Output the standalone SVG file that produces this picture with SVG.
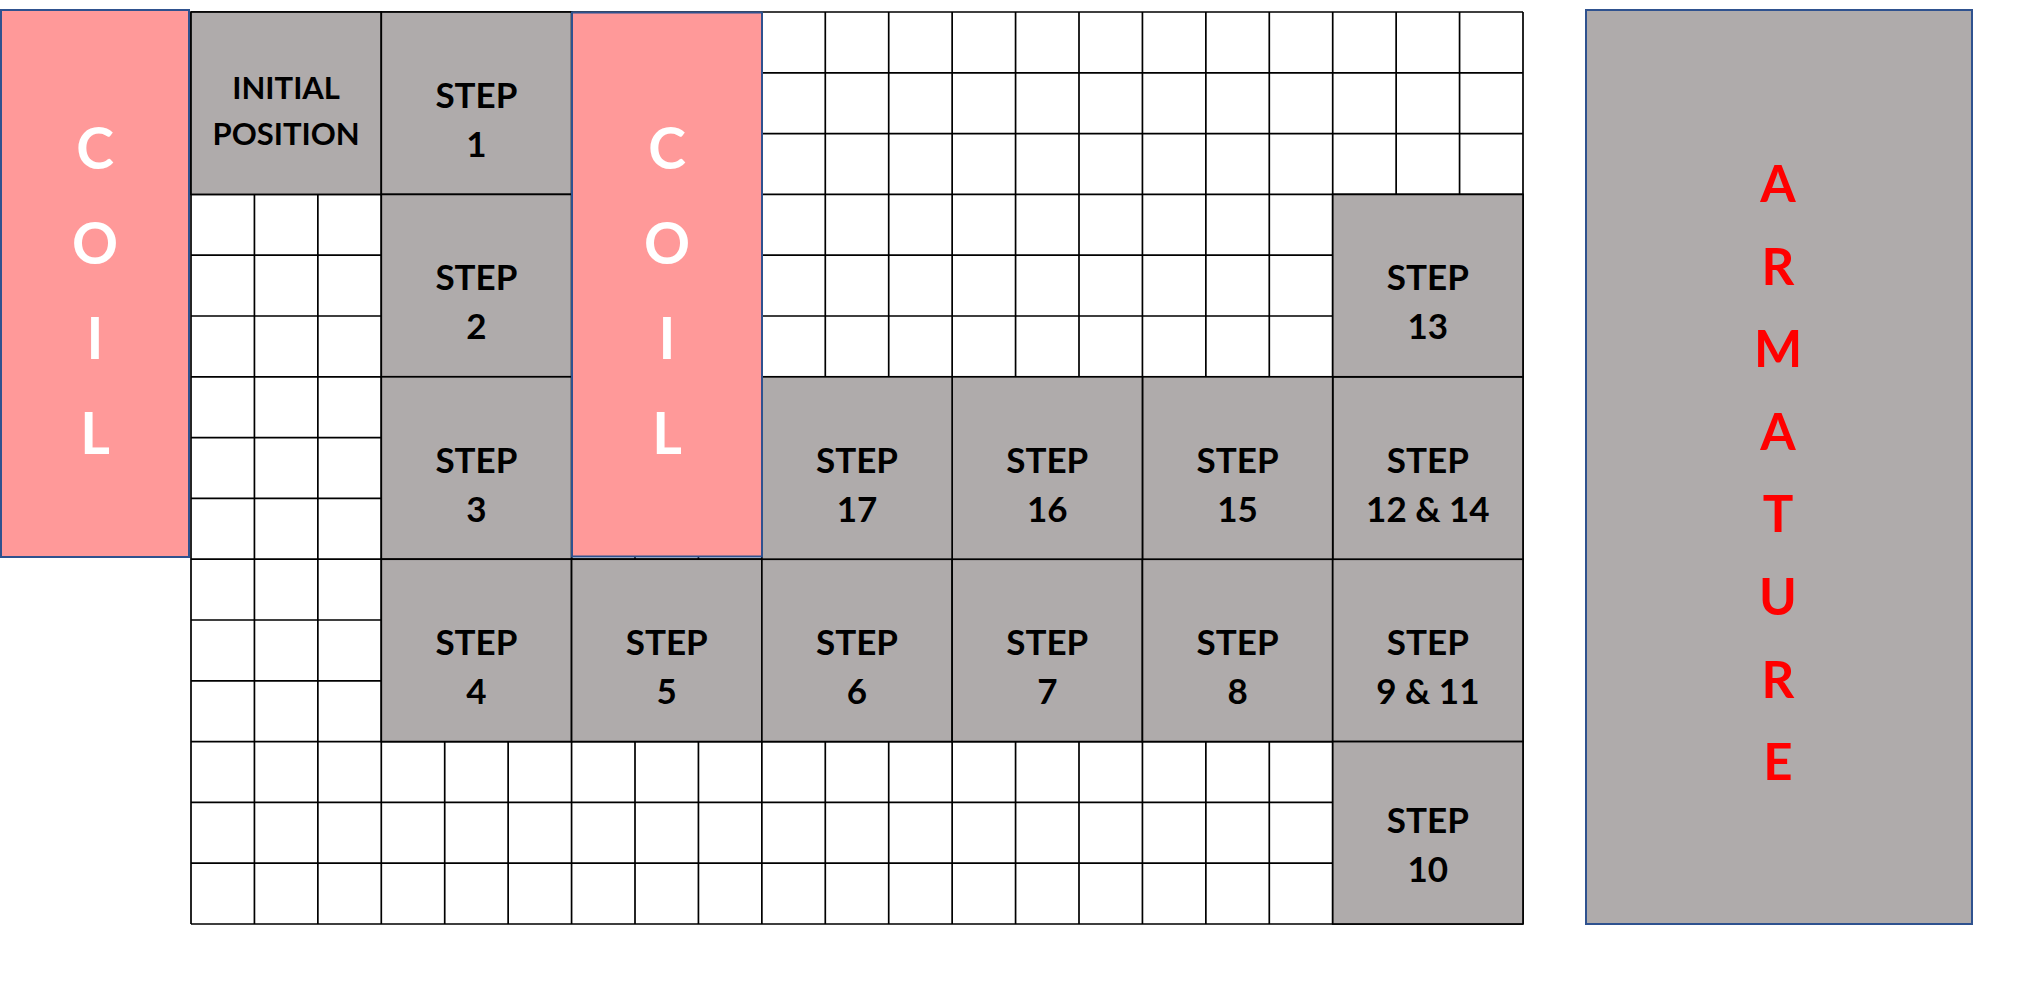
<svg xmlns="http://www.w3.org/2000/svg" width="2022" height="990" viewBox="0 0 2022 990">
<style>
.bg{fill:#ffffff}
.grid{fill:none;stroke:#000;stroke-width:1.7}
.cell{fill:#AFABAB;stroke:#000;stroke-width:1.7}
.coil{fill:#FF9999;stroke:#2F528F;stroke-width:2}
.arm{fill:#AFABAB;stroke:#2F528F;stroke-width:2}
.lbl{font-family:Lato,"Liberation Sans",sans-serif;font-weight:700;font-size:35px;fill:#000;text-anchor:middle}
.init{font-size:31px}
.cl{font-family:Lato,"Liberation Sans",sans-serif;font-weight:700;font-size:57px;fill:#fff;text-anchor:middle}
.al{font-family:Lato,"Liberation Sans",sans-serif;font-weight:700;font-size:51px;fill:#FF0000;text-anchor:middle}
</style>
<rect class="bg" x="0" y="0" width="2022" height="990"/>
<g id="grid">
<path class="grid" d="M191 12V924M254.43 12V924M317.86 12V924M381.29 12V924M444.71 12V924M508.14 12V924M571.57 12V924M635 12V924M698.43 12V924M761.86 12V924M825.29 12V924M888.71 12V924M952.14 12V924M1015.57 12V924M1079 12V924M1142.43 12V924M1205.86 12V924M1269.29 12V924M1332.71 12V924M1396.14 12V924M1459.57 12V924M1523 12V924M191 12H1523M191 72.8H1523M191 133.6H1523M191 194.4H1523M191 255.2H1523M191 316H1523M191 376.8H1523M191 437.6H1523M191 498.4H1523M191 559.2H1523M191 620H1523M191 680.8H1523M191 741.6H1523M191 802.4H1523M191 863.2H1523M191 924H1523"/>
</g>
<g id="initial-position"><rect class="cell" x="191" y="12" width="190.29" height="182.4"/><text class="lbl init" x="286.14" y="99">INITIAL</text><text class="lbl init" x="286.14" y="145">POSITION</text></g>
<g id="step-1"><rect class="cell" x="381.29" y="12" width="190.28" height="182.4"/><text class="lbl" x="476.43" y="108">STEP</text><text class="lbl" x="476.43" y="157">1</text></g>
<g id="step-2"><rect class="cell" x="381.29" y="194.4" width="190.28" height="182.4"/><text class="lbl" x="476.43" y="290">STEP</text><text class="lbl" x="476.43" y="339">2</text></g>
<g id="step-3"><rect class="cell" x="381.29" y="376.8" width="190.28" height="182.4"/><text class="lbl" x="476.43" y="473">STEP</text><text class="lbl" x="476.43" y="522">3</text></g>
<g id="step-4"><rect class="cell" x="381.29" y="559.2" width="190.28" height="182.4"/><text class="lbl" x="476.43" y="655">STEP</text><text class="lbl" x="476.43" y="704">4</text></g>
<g id="step-5"><rect class="cell" x="571.57" y="559.2" width="190.29" height="182.4"/><text class="lbl" x="666.71" y="655">STEP</text><text class="lbl" x="666.71" y="704">5</text></g>
<g id="step-6"><rect class="cell" x="761.86" y="559.2" width="190.28" height="182.4"/><text class="lbl" x="857" y="655">STEP</text><text class="lbl" x="857" y="704">6</text></g>
<g id="step-7"><rect class="cell" x="952.14" y="559.2" width="190.29" height="182.4"/><text class="lbl" x="1047.29" y="655">STEP</text><text class="lbl" x="1047.29" y="704">7</text></g>
<g id="step-8"><rect class="cell" x="1142.43" y="559.2" width="190.28" height="182.4"/><text class="lbl" x="1237.57" y="655">STEP</text><text class="lbl" x="1237.57" y="704">8</text></g>
<g id="step-9-11"><rect class="cell" x="1332.71" y="559.2" width="190.29" height="182.4"/><text class="lbl" x="1427.86" y="655">STEP</text><text class="lbl" x="1427.86" y="704">9 &amp; 11</text></g>
<g id="step-10"><rect class="cell" x="1332.71" y="741.6" width="190.29" height="182.4"/><text class="lbl" x="1427.86" y="833">STEP</text><text class="lbl" x="1427.86" y="882">10</text></g>
<g id="step-12-14"><rect class="cell" x="1332.71" y="376.8" width="190.29" height="182.4"/><text class="lbl" x="1427.86" y="473">STEP</text><text class="lbl" x="1427.86" y="522">12 &amp; 14</text></g>
<g id="step-13"><rect class="cell" x="1332.71" y="194.4" width="190.29" height="182.4"/><text class="lbl" x="1427.86" y="290">STEP</text><text class="lbl" x="1427.86" y="339">13</text></g>
<g id="step-15"><rect class="cell" x="1142.43" y="376.8" width="190.28" height="182.4"/><text class="lbl" x="1237.57" y="473">STEP</text><text class="lbl" x="1237.57" y="522">15</text></g>
<g id="step-16"><rect class="cell" x="952.14" y="376.8" width="190.29" height="182.4"/><text class="lbl" x="1047.29" y="473">STEP</text><text class="lbl" x="1047.29" y="522">16</text></g>
<g id="step-17"><rect class="cell" x="761.86" y="376.8" width="190.28" height="182.4"/><text class="lbl" x="857" y="473">STEP</text><text class="lbl" x="857" y="522">17</text></g>
<g id="coil-left"><rect class="coil" x="1" y="10" width="188" height="547"/><text class="cl" x="95" y="169">C</text><text class="cl" x="95" y="264">O</text><text class="cl" x="95" y="359">I</text><text class="cl" x="95" y="454">L</text></g>
<g id="coil-middle"><rect class="coil" x="572" y="12.5" width="190" height="544"/><text class="cl" x="667" y="169">C</text><text class="cl" x="667" y="264">O</text><text class="cl" x="667" y="359">I</text><text class="cl" x="667" y="454">L</text></g>
<g id="armature"><rect class="arm" x="1586" y="10" width="386" height="914"/><text class="al" x="1778" y="202">A</text><text class="al" x="1778" y="285">R</text><text class="al" x="1778" y="367">M</text><text class="al" x="1778" y="450">A</text><text class="al" x="1778" y="532">T</text><text class="al" x="1778" y="615">U</text><text class="al" x="1778" y="698">R</text><text class="al" x="1778" y="780">E</text></g>
<g id="connectors"/>
</svg>
